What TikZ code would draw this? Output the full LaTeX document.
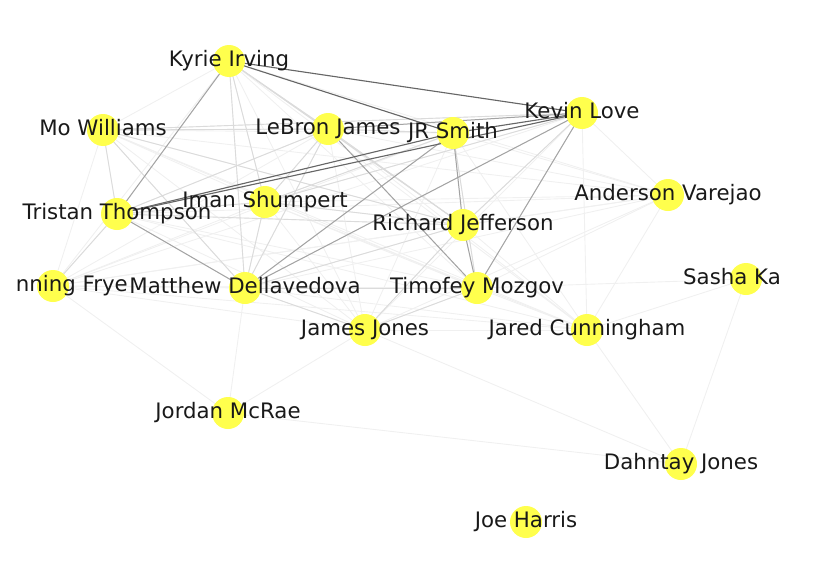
\documentclass[tikz,border=0pt]{standalone}
\usepackage{fontspec}
\setmainfont{DejaVu Sans}
\definecolor{nodey}{RGB}{255,255,77}
\begin{document}
\begin{tikzpicture}[x=1pt,y=-1pt,
  dark/.style={draw=black!60,line width=1.1pt},
  med/.style={draw=black!36,line width=1pt},
  lite/.style={draw=black!14,line width=0.9pt},
  faint/.style={draw=black!6,line width=0.9pt},
  dot/.style={circle,fill=nodey,inner sep=0pt,minimum size=32pt},
  lab/.style={font=\fontsize{21.3}{24}\selectfont,text=black!90,inner sep=0pt,text height=15pt,text depth=4pt}]
\useasboundingbox (0,0) rectangle (824,562);
% positions
\coordinate (ki) at (229,61);
\coordinate (kl) at (582,113);
\coordinate (mo) at (103,130);
\coordinate (lb) at (328,129);
\coordinate (jr) at (453,133);
\coordinate (av) at (668,195);
\coordinate (tt) at (117,214);
\coordinate (is) at (265,202);
\coordinate (rj) at (463,225);
\coordinate (cf) at (53,286);
\coordinate (md) at (245,288);
\coordinate (tm) at (477,288);
\coordinate (jj) at (365,330);
\coordinate (jc) at (587,330);
\coordinate (sk) at (746,279);
\coordinate (jm) at (228,413);
\coordinate (dj) at (681,464);
\coordinate (jh) at (526,522);
% faint web among core players
\foreach \a [count=\i] in {ki,kl,mo,lb,jr,av,tt,is,rj,cf,md,tm,jj,jc}{
  \foreach \b [count=\j] in {ki,kl,mo,lb,jr,av,tt,is,rj,cf,md,tm,jj,jc}{
    \ifnum\j>\i \draw[faint] (\a) -- (\b);\fi
  }
}
% peripheral faint edges
\draw[faint] (cf) -- (jm);
\draw[faint] (md) -- (jm);
\draw[faint] (jj) -- (jm);
\draw[faint] (jm) -- (dj);
\draw[faint] (jj) -- (dj);
\draw[faint] (jc) -- (dj);
\draw[faint] (sk) -- (dj);
\draw[faint] (jc) -- (sk);
\draw[faint] (tm) -- (sk);
% light edges
\draw[lite] (ki) -- (lb);
\draw[lite] (ki) -- (is);
\draw[lite] (ki) -- (md);
\draw[lite] (ki) -- (rj);
\draw[lite] (mo) -- (tt);
\draw[lite] (mo) -- (lb);
\draw[lite] (mo) -- (kl);
\draw[lite] (mo) -- (md);
\draw[lite] (mo) -- (rj);
\draw[lite] (lb) -- (tt);
\draw[lite] (lb) -- (md);
\draw[lite] (lb) -- (jr);
\draw[lite] (lb) -- (rj);
\draw[lite] (lb) -- (is);
\draw[lite] (is) -- (md);
\draw[lite] (is) -- (tt);
\draw[lite] (is) -- (jr);
\draw[lite] (is) -- (rj);
\draw[lite] (is) -- (kl);
\draw[lite] (md) -- (rj);
\draw[lite] (md) -- (tm);
\draw[lite] (md) -- (jj);
\draw[lite] (tt) -- (rj);
\draw[lite] (tt) -- (cf);
\draw[lite] (kl) -- (rj);
\draw[lite] (jr) -- (tm);
\draw[lite] (rj) -- (jj);
\draw[lite] (tm) -- (jj);
% medium edges
\draw[med] (ki) -- (tt);
\draw[med] (tt) -- (md);
\draw[med] (md) -- (kl);
\draw[med] (md) -- (jr);
\draw[med] (lb) -- (kl);
\draw[med] (lb) -- (tm);
\draw[med] (jr) -- (rj);
\draw[med] (rj) -- (tm);
\draw[med] (kl) -- (tm);
% dark edges
\draw[dark] (ki) -- (kl);
\draw[dark] (ki) -- (jr);
\draw[dark] (jr) -- (kl);
\draw[dark] (tt) -- (kl);
\draw[dark] (tt) -- (jr);
% nodes
\foreach \n in {ki,kl,mo,lb,jr,av,tt,is,rj,cf,md,tm,jj,jc,sk,jm,dj,jh}{
  \node[dot] (d\n) at (\n) {};
}
% labels
\node[lab] (lki) at (ki) {Kyrie Irving};
\node[lab] (lkl) at (kl) {Kevin Love};
\node[lab] (lmo) at (mo) {Mo Williams};
\node[lab] (llb) at (lb) {LeBron James};
\node[lab] (ljr) at (jr) {JR Smith};
\node[lab] (lav) at (av) {Anderson Varejao};
\node[lab] (ltt) at (tt) {Tristan Thompson};
\node[lab] (lis) at (is) {Iman Shumpert};
\node[lab] (lrj) at (rj) {Richard Jefferson};
\node[lab,anchor=east] (lcf) at (128,286) {nning Frye};
\node[lab] (lmd) at (md) {Matthew Dellavedova};
\node[lab] (ltm) at (tm) {Timofey Mozgov};
\node[lab] (ljj) at (jj) {James Jones};
\node[lab] (ljc) at (jc) {Jared Cunningham};
\node[lab,anchor=west] (lsk) at (683,279) {Sasha Ka};
\node[lab] (ljm) at (jm) {Jordan McRae};
\node[lab] (ldj) at (dj) {Dahntay Jones};
\node[lab] (ljh) at (jh) {Joe Harris};
\end{tikzpicture}
\end{document}
